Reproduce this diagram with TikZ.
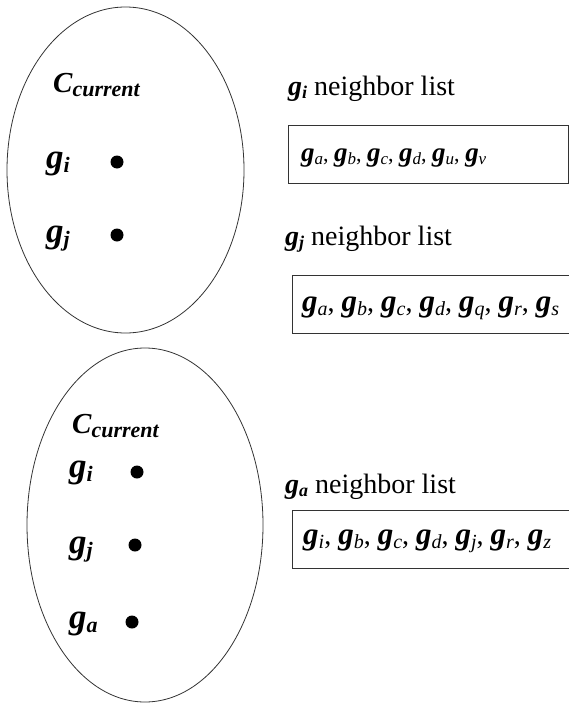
\documentclass[tikz,border=0pt]{standalone}
\usepackage{fontspec}
\setmainfont{Liberation Serif}
\usetikzlibrary{shapes,positioning}

\newcommand{\gsym}[1]{{\fontsize{#1}{#1}\selectfont\bfseries\itshape g}}
\newcommand{\gb}[1]{\gsym{35}\raisebox{-4pt}{\fontsize{22}{22}\selectfont\bfseries\itshape #1}}
\newcommand{\gt}[1]{\gsym{28}\raisebox{-3.5pt}{\fontsize{18}{18}\selectfont\bfseries\itshape #1}}
\newcommand{\gn}[1]{\gsym{27}\raisebox{-3.5pt}{\fontsize{17}{17}\selectfont\itshape #1}}
\newcommand{\gm}[1]{\gsym{31}\raisebox{-4pt}{\fontsize{20}{20}\selectfont\itshape #1}}
\newcommand{\ccur}{{\fontsize{29}{29}\selectfont\bfseries\itshape C}\raisebox{-4pt}{\fontsize{22}{22}\selectfont\bfseries\itshape current}}

\begin{document}
\begin{tikzpicture}[x=1pt,y=-1pt,
  every node/.style={inner sep=0pt},
  cluster/.style={ellipse, draw=black!80, line width=0.8pt},
  member/.style={circle, fill, minimum size=13pt},
  txt/.style={anchor=base west},
  title/.style={txt, font=\fontsize{28}{28}\selectfont},
  items/.style={txt, font=\fontsize{22}{22}\selectfont},
  bigitems/.style={txt, font=\fontsize{28}{28}\selectfont},
  listbox/.style={draw=black!80, line width=0.8pt, anchor=north west, minimum height=58pt}]
\useasboundingbox (0,0) rectangle (569,704);

\node[cluster, minimum width=237pt, minimum height=326pt] (clusterA) at (125.5,170) {};
\node[txt] (cA) at (53,92) {\ccur};
\node[txt] (giA) at (46,168) {\gb{i}};
\node[member] (dotgiA) at (117,162) {};
\node[txt] (gjA) at (46,242) {\gb{j}};
\node[member] (dotgjA) at (117,235) {};

\node[cluster, minimum width=236pt, minimum height=354pt] (clusterB) at (145,525) {};
\node[txt] (cB) at (72,433) {\ccur};
\node[txt] (giB) at (69,477) {\gb{i}};
\node[member] (dotgiB) at (137,472) {};
\node[txt] (gjB) at (69,553) {\gb{j}};
\node[member] (dotgjB) at (135,545) {};
\node[txt] (gaB) at (69,628) {\gb{a}};
\node[member] (dotgaB) at (132,622) {};

\node[title] (titlegi) at (288,95) {\gt{i} neighbor list};
\node[listbox, minimum width=280pt] (listgi) at (288,125) {};
\node[items] (itemsgi) at (301,161) {\gn{a}, \gn{b}, \gn{c}, \gn{d}, \gn{u}, \gn{v}};

\node[title] (titlegj) at (285,245) {\gt{j} neighbor list};
\node[listbox, minimum width=290pt] (listgj) at (292,275) {};
\node[bigitems] (itemsgj) at (302,311) {\gm{a}, \gm{b}, \gm{c}, \gm{d}, \gm{q}, \gm{r}, \gm{s}};

\node[title] (titlega) at (285,493) {\gt{a} neighbor list};
\node[listbox, minimum width=290pt] (listga) at (292,510) {};
\node[bigitems] (itemsga) at (303,544) {\gm{i}, \gm{b}, \gm{c}, \gm{d}, \gm{j}, \gm{r}, \gm{z}};
\end{tikzpicture}
\end{document}
